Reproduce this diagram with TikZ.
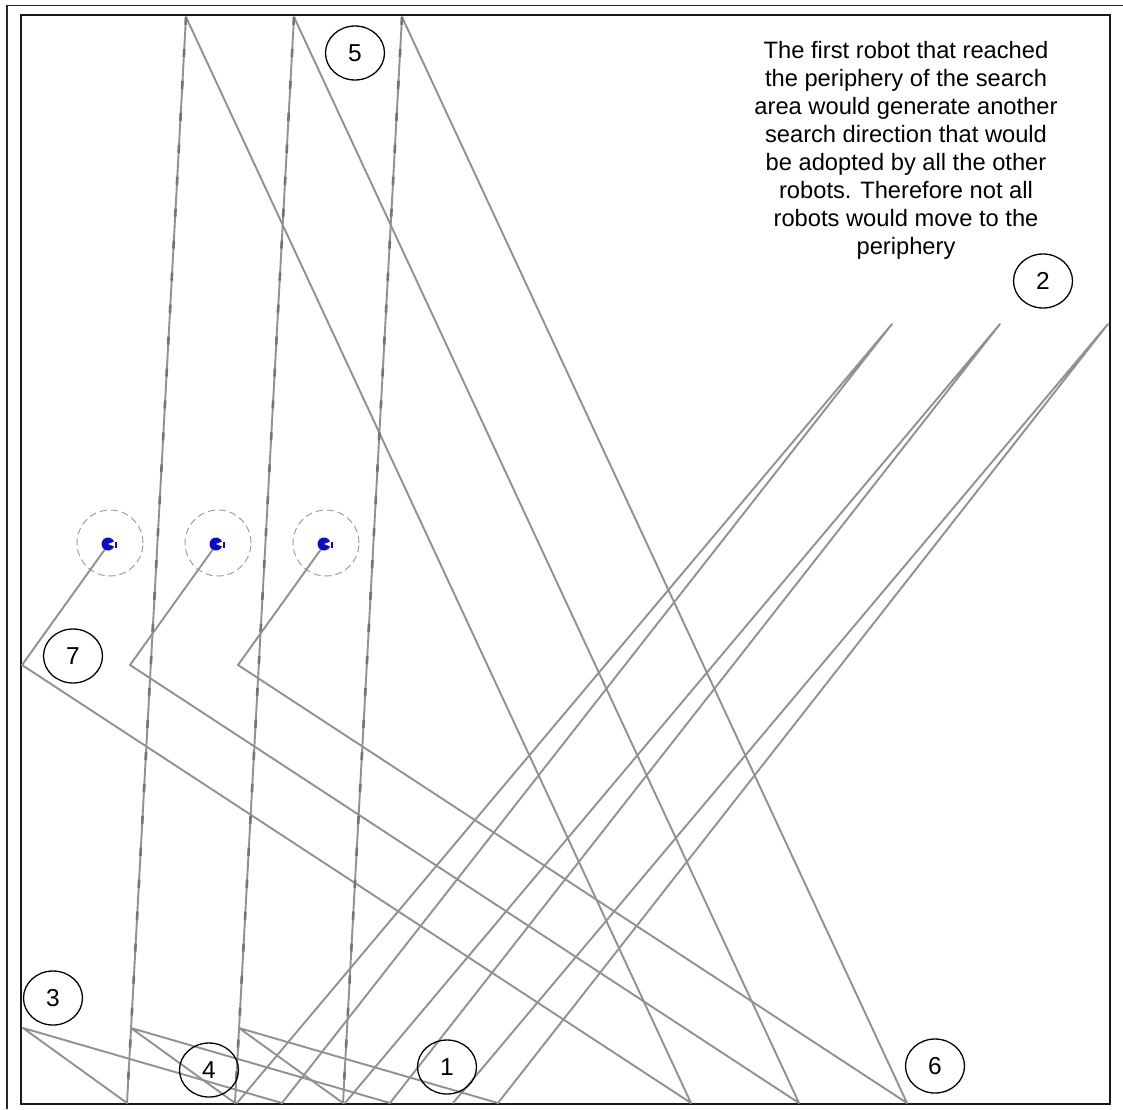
\documentclass[tikz,border=0pt]{standalone}
\usepackage{fontspec}
\setmainfont{Liberation Sans}
\usetikzlibrary{shapes.geometric}
\definecolor{trail}{RGB}{145,145,145}
\definecolor{ring}{RGB}{160,160,160}
\definecolor{robotblue}{RGB}{10,10,200}
\begin{document}
\begin{tikzpicture}[x=1pt,y=-1pt,
  trailline/.style={draw=trail,line width=1.9pt,line cap=round,line join=round},
  dashtrail/.style={draw=trail!80!black,line width=2.6pt,dash pattern=on 8pt off 24pt},
  ringline/.style={draw=ring,line width=1pt,dash pattern=on 7pt off 4pt},
  numcircle/.style={draw=black,line width=1.3pt,ellipse,minimum width=59pt,minimum height=54pt,inner sep=0pt,font=\fontsize{24.5}{28}\selectfont},
  caption/.style={anchor=base,font=\fontsize{23.7}{28}\selectfont,inner sep=0pt}]
\useasboundingbox (0,0) rectangle (1123,1109);
\fill[white] (0,0) rectangle (1123,1109);
% frames
\draw[line width=1.4pt,black!85] (7,1109) -- (7,5.5) -- (1123,5.5);
\draw[line width=2.2pt,black!90] (21,15) rectangle (1110,1104);
% robot trails
\foreach \i/\s in {0/0,1/108,2/216}{
  \coordinate (r\i) at (108+\s,545);
  \coordinate (w\i) at (22+\s,665);
  \coordinate (bA\i) at (691+\s,1103);
  \coordinate (t\i) at (186+\s,17);
  \coordinate (bB\i) at (127+\s,1103);
  \coordinate (l\i) at (23+\s,1028);
  \coordinate (bC\i) at (282+\s,1103);
  \coordinate (v\i) at (892+\s,324);
  \coordinate (bD\i) at (237+\s,1103);
  \draw[trailline] (r\i) -- (w\i) -- (bA\i) -- (t\i) -- (bB\i) -- (l\i) -- (bC\i) -- (v\i) -- (bD\i);
  \draw[dashtrail] (t\i) -- (bB\i);
  \draw[ringline] (r\i) ++(2,-2) circle[radius=33pt];
  \fill[robotblue] (r\i) ++(0,-1) circle[radius=6.5pt];
  \fill[white] (r\i) ++(0,-1) -- ++(9,-3.5) -- ++(0,7) -- cycle;
  \draw[robotblue,line width=2pt] (r\i) ++(7.5,-3) -- ++(0,5.5);
}
% numbered markers
\node[numcircle] (n5) at (355,53) {5};
\node[numcircle] (n2) at (1043,281) {2};
\node[numcircle] (n7) at (73,656) {7};
\node[numcircle] (n3) at (53,998) {3};
\node[numcircle] (n4) at (209,1070) {4};
\node[numcircle] (n1) at (447,1067) {1};
\node[numcircle] (n6) at (935,1066) {6};
% caption
\node[caption] (c1) at (906,58) {The first robot that reached};
\node[caption] (c2) at (906,86) {the periphery of the search};
\node[caption] (c3) at (906,114) {area would generate another};
\node[caption] (c4) at (906,142) {search direction that would};
\node[caption] (c5) at (906,170) {be adopted by all the other};
\node[caption] (c6) at (906,198) {robots. Therefore not all};
\node[caption] (c7) at (906,226) {robots would move to the};
\node[caption] (c8) at (906,254) {periphery};
\end{tikzpicture}
\end{document}
